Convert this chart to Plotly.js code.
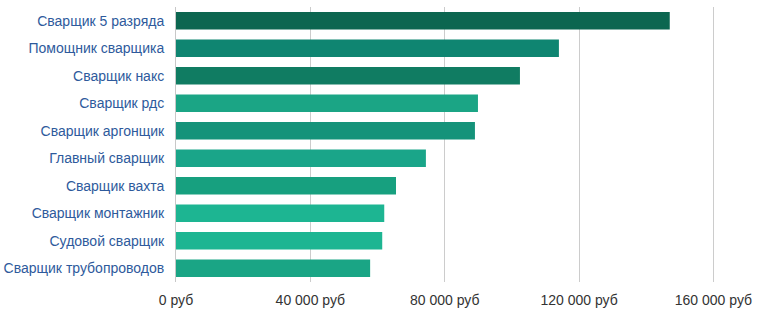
<!DOCTYPE html>
<html>
<head>
<meta charset="utf-8">
<script src="https://cdn.plot.ly/plotly-3.0.1.min.js"></script>
<style>html,body{margin:0;padding:0;background:#fff;}#chart{width:767px;height:322px;}</style>
</head>
<body>
<div id="chart"></div>
<script>
const categories = [
  "Сварщик 5 разряда",
  "Помощник сварщика",
  "Сварщик накс",
  "Сварщик рдс",
  "Сварщик аргонщик",
  "Главный сварщик",
  "Сварщик вахта",
  "Сварщик монтажник",
  "Судовой сварщик",
  "Сварщик трубопроводов"
];
const salaries = [147000, 114000, 102400, 89900, 89000, 74400, 65500, 62000, 61400, 57800];
const barColors = ["#0c6650", "#0f8571", "#107c62", "#1ba585", "#15937a", "#1aa589", "#17a07f", "#1db592", "#1db592", "#1aa585"];
const tickValues = [0, 40000, 80000, 120000, 160000];
const tickLabels = ["0 руб", "40 000 руб", "80 000 руб", "120 000 руб", "160 000 руб"];

const trace = {
  type: "bar",
  orientation: "h",
  y: categories,
  x: salaries,
  marker: {color: barColors, line: {width: 0}},
  width: 0.63,
  hoverinfo: "none"
};

const layout = {
  width: 767,
  height: 322,
  margin: {l: 176, r: 20, t: 7, b: 40},
  paper_bgcolor: "#fff",
  plot_bgcolor: "#fff",
  showlegend: false,
  font: {family: "Liberation Sans, Arial, sans-serif"},
  xaxis: {
    range: [0, 170000],
    tickvals: tickValues,
    ticktext: tickLabels,
    showgrid: true,
    gridcolor: "#cccccc",
    gridwidth: 1,
    zeroline: false,
    showline: false,
    ticks: "outside",
    ticklen: 5,
    tickcolor: "rgba(0,0,0,0)",
    tickfont: {size: 14, color: "#333333"},
    fixedrange: true
  },
  yaxis: {
    autorange: "reversed",
    showline: true,
    linecolor: "#c8c8c8",
    linewidth: 1,
    showgrid: false,
    zeroline: false,
    ticks: "outside",
    ticklen: 8,
    tickcolor: "rgba(0,0,0,0)",
    tickfont: {size: 14, color: "#2e5a9c"},
    fixedrange: true
  }
};

Plotly.newPlot("chart", [trace], layout, {displayModeBar: false, staticPlot: true});
</script>
</body>
</html>
